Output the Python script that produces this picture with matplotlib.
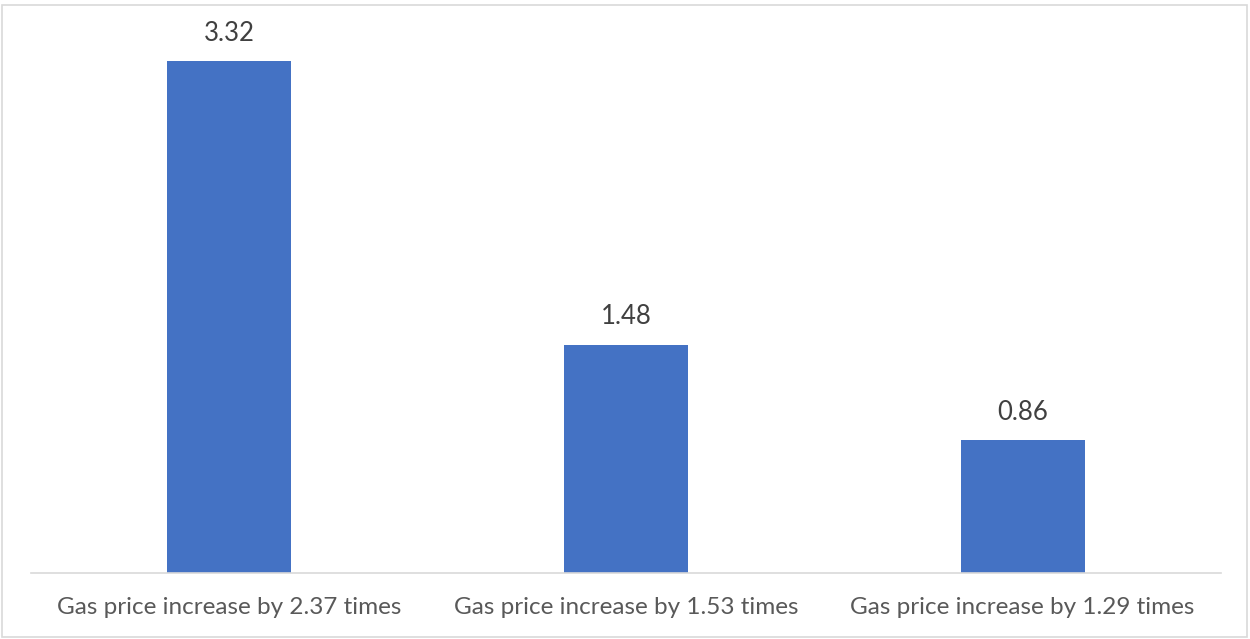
import matplotlib
matplotlib.use("Agg")
import matplotlib.pyplot as plt
from matplotlib.patches import Rectangle

categories = ["Gas price increase by 2.37 times",
              "Gas price increase by 1.53 times",
              "Gas price increase by 1.29 times"]
values = [3.32, 1.48, 0.86]

plt.rcParams['font.family'] = ['Lato', 'DejaVu Sans']

fig = plt.figure(figsize=(12.5, 6.39), dpi=100)
W, H = 1250, 639

# plot area in pixel terms: x 31..1221, baseline at y=573
ax = fig.add_axes([31 / W, (H - 573) / H, (1221 - 31) / W, (573 - 12) / H])
x = list(range(len(values)))
bars = ax.bar(x, values, width=0.313, color="#4472C4")
ax.set_xlim(-0.5, len(values) - 0.5)
ax.set_ylim(0, 3.64)

for b, v in zip(bars, values):
    ax.text(b.get_x() + b.get_width() / 2, v + 0.10, f"{v:.2f}",
            ha="center", va="bottom", fontsize=18.5, color="#404040")

ax.set_xticks(x)
ax.set_xticklabels(categories, fontsize=17.5, color="#595959")
ax.tick_params(axis="x", length=0, pad=17)
ax.set_yticks([])
for s in ["top", "left", "right"]:
    ax.spines[s].set_visible(False)
ax.spines["bottom"].set_color("#D9D9D9")
ax.spines["bottom"].set_linewidth(1.2)

# chart border
fig.patches.append(Rectangle((2 / W, 2 / H), (W - 5) / W, (H - 7) / H,
                             transform=fig.transFigure, fill=False,
                             edgecolor="#D9D9D9", linewidth=1.2))

fig.savefig("out.png", dpi=100)
